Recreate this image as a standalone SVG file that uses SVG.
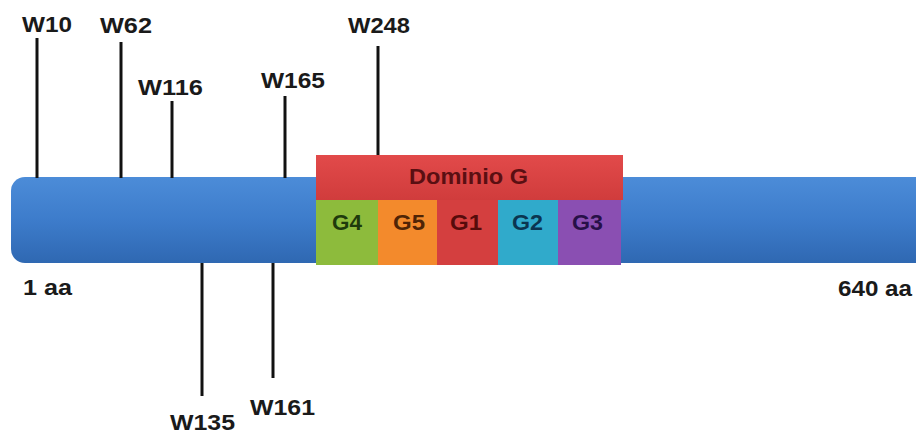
<svg xmlns="http://www.w3.org/2000/svg" width="916" height="434" viewBox="0 0 916 434">
<defs>
<linearGradient id="blue" x1="0" y1="0" x2="0" y2="1">
<stop offset="0" stop-color="#4c8cd8"/>
<stop offset="0.5" stop-color="#3d7ccb"/>
<stop offset="1" stop-color="#2f68b2"/>
</linearGradient>
<linearGradient id="red" x1="0" y1="0" x2="0" y2="1">
<stop offset="0" stop-color="#e24a4a"/>
<stop offset="1" stop-color="#d03c3c"/>
</linearGradient>
</defs>
<style>
.lbl{font-family:"Liberation Sans",Arial,sans-serif;font-weight:bold;font-size:22px;fill:#1a1a1a}
.tick{stroke:#111;stroke-width:3;fill:none}
.seg{stroke:none}
</style>
<rect x="0" y="0" width="916" height="434" fill="#ffffff"/>
<g id="protein">
<rect x="11" y="177" width="940" height="86" rx="14" fill="url(#blue)"/>
<text class="lbl" x="23" y="295" textLength="49" lengthAdjust="spacingAndGlyphs">1 aa</text>
<text class="lbl" x="838" y="296" textLength="74" lengthAdjust="spacingAndGlyphs">640 aa</text>
</g>
<g id="connectors">
<line class="tick" x1="37" y1="38" x2="37" y2="178"/>
<line class="tick" x1="121" y1="42" x2="121" y2="178"/>
<line class="tick" x1="172" y1="101" x2="172" y2="178"/>
<line class="tick" x1="285" y1="96" x2="285" y2="178"/>
<line class="tick" x1="378" y1="46" x2="378" y2="155"/>
<line class="tick" x1="202" y1="263" x2="202" y2="396"/>
<line class="tick" x1="273" y1="263" x2="273" y2="378"/>
</g>
<g id="dominio-g">
<rect x="316" y="155" width="307" height="45" fill="url(#red)"/>
<text class="lbl" x="409" y="184" textLength="119" lengthAdjust="spacingAndGlyphs" style="fill:#5a0f12">Dominio G</text>
</g>
<g id="g4">
<rect class="seg" x="316" y="200" width="62" height="65" fill="#8dbb3c"/>
<text class="lbl" x="332" y="230" textLength="30" lengthAdjust="spacingAndGlyphs" style="fill:#1e3a0c">G4</text>
</g>
<g id="g5">
<rect class="seg" x="378" y="200" width="59" height="65" fill="#f38a2c"/>
<text class="lbl" x="393" y="230" textLength="32" lengthAdjust="spacingAndGlyphs" style="fill:#4f2406">G5</text>
</g>
<g id="g1">
<rect class="seg" x="437" y="200" width="61" height="65" fill="#d43f3f"/>
<text class="lbl" x="450" y="230" textLength="32" lengthAdjust="spacingAndGlyphs" style="fill:#560b0b">G1</text>
</g>
<g id="g2">
<rect class="seg" x="498" y="200" width="60" height="65" fill="#30aacb"/>
<text class="lbl" x="512" y="230" textLength="31" lengthAdjust="spacingAndGlyphs" style="fill:#0b3550">G2</text>
</g>
<g id="g3">
<rect class="seg" x="558" y="200" width="63" height="65" fill="#8a4fb2"/>
<text class="lbl" x="572" y="230" textLength="31" lengthAdjust="spacingAndGlyphs" style="fill:#271048">G3</text>
</g>
<g id="w10"><text class="lbl" x="22" y="32" textLength="50" lengthAdjust="spacingAndGlyphs">W10</text></g>
<g id="w62"><text class="lbl" x="100" y="33" textLength="52" lengthAdjust="spacingAndGlyphs">W62</text></g>
<g id="w116"><text class="lbl" x="138" y="95" textLength="65" lengthAdjust="spacingAndGlyphs">W116</text></g>
<g id="w165"><text class="lbl" x="261" y="88" textLength="64" lengthAdjust="spacingAndGlyphs">W165</text></g>
<g id="w248"><text class="lbl" x="348" y="33" textLength="62" lengthAdjust="spacingAndGlyphs">W248</text></g>
<g id="w135"><text class="lbl" x="170" y="430" textLength="65" lengthAdjust="spacingAndGlyphs">W135</text></g>
<g id="w161"><text class="lbl" x="250" y="415" textLength="65" lengthAdjust="spacingAndGlyphs">W161</text></g>
</svg>
